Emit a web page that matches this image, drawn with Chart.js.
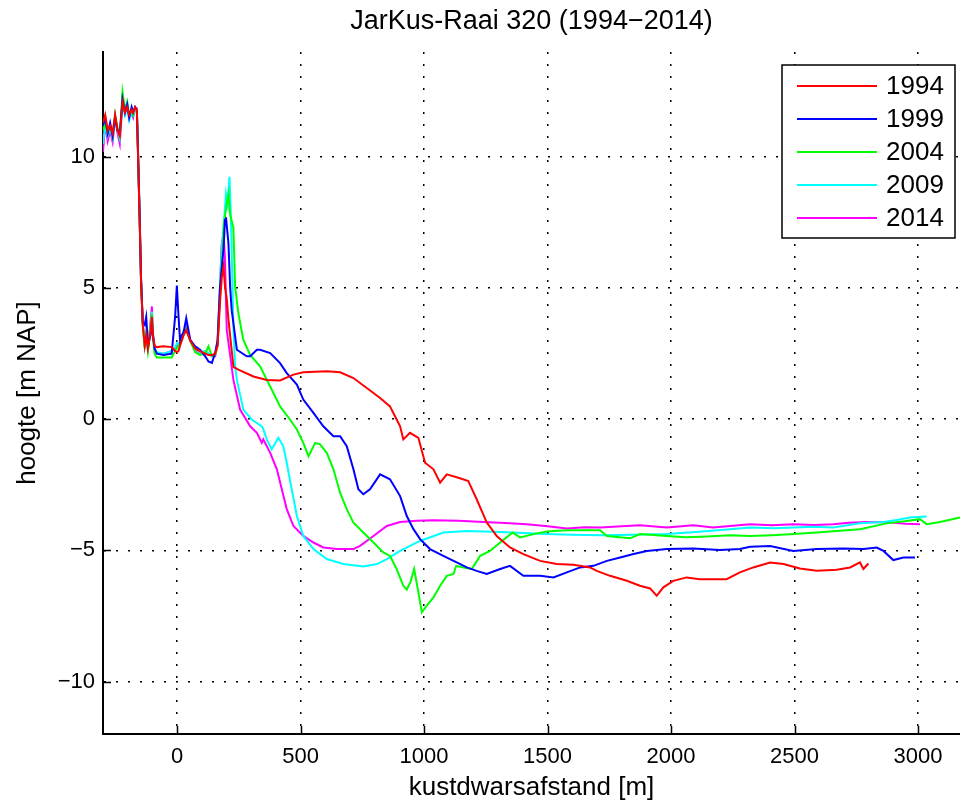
<!DOCTYPE html>
<html>
<head>
<meta charset="utf-8">
<title>JarKus-Raai 320 (1994-2014)</title>
<script src="https://cdn.jsdelivr.net/npm/chart.js@4.4.1/dist/chart.umd.min.js"></script>
<style>
  html, body { margin: 0; padding: 0; background: #fff; }
  #wrap { width: 960px; height: 805px; }
</style>
</head>
<body>
<div id="wrap"><canvas id="chart" width="960" height="805"></canvas></div>
<script>
const FONT = '"Liberation Sans", Arial, Helvetica, sans-serif';

const chartTitle = "JarKus-Raai 320 (1994\u22122014)";
const xLabel = "kustdwarsafstand [m]";
const yLabel = "hoogte [m NAP]";
const years = ["1994", "1999", "2004", "2009", "2014"];
const colors = ["#ff0000", "#0000ff", "#00ff00", "#00ffff", "#ff00ff"];
const xTicks = [0, 500, 1000, 1500, 2000, 2500, 3000];
const yTicks = [-10, -5, 0, 5, 10];

// ===================== DATA =====================
// dune part, same distances for every year
const duneDist = [
  -300, -291, -281, -271, -261, -251, -241, -232, -221, -211,
  -202, -194, -184, -178, -170, -163, -159, -152, -146, -139,
  -131, -125, -118, -108, -102, -98, -91, -82, -55, -22,
  -8, -1, 6, 12, 19, 26, 37, 53, 73, 93,
  114, 127, 141, 154, 164, 174
];

const duneH1994 = [
  11.3, 11.6, 11.0, 11.2, 10.9, 11.6, 11.0, 10.8, 12.1, 11.7,
  11.9, 11.6, 11.8, 11.7, 11.9, 11.8, 10.4, 7.8, 5.3, 3.6,
  2.8, 3.2, 2.7, 3.3, 3.9, 3.2, 2.8, 2.75, 2.78, 2.75,
  2.6, 2.55, 2.6, 2.8, 3.0, 3.2, 3.4, 3.0, 2.7, 2.6,
  2.5, 2.45, 2.45, 2.5, 2.8, 4.5
];
const duneH1999 = [
  11.2, 11.5, 10.9, 11.3, 10.8, 11.5, 11.0, 10.9, 12.2, 11.7,
  12.0, 11.5, 11.9, 11.7, 11.9, 11.8, 10.5, 7.9, 5.4, 3.7,
  3.6, 3.9, 2.8, 3.2, 3.7, 3.2, 2.7, 2.5, 2.45, 2.5,
  3.9, 5.1, 3.9, 3.0, 3.2, 3.3, 3.85, 3.03, 2.78, 2.65,
  2.4, 2.2, 2.15, 2.53, 3.0, 5.06
];
const duneH2004 = [
  11.0, 11.3, 10.9, 11.2, 10.8, 11.6, 11.1, 10.8, 12.47, 11.8,
  12.1, 11.6, 11.8, 11.6, 11.9, 11.8, 10.4, 7.8, 5.2, 3.6,
  2.7, 3.2, 2.6, 3.4, 4.0, 3.1, 2.5, 2.35, 2.35, 2.35,
  2.6, 2.7, 2.8, 2.9, 3.0, 3.2, 3.45, 3.0, 2.55, 2.45,
  2.5, 2.78, 2.4, 2.45, 2.8, 4.8
];
const duneH2009 = [
  10.5, 11.2, 10.8, 11.1, 10.7, 11.4, 11.0, 10.7, 12.0, 11.6,
  11.9, 11.4, 11.7, 11.6, 11.85, 11.8, 10.5, 7.9, 5.3, 3.7,
  2.8, 3.2, 2.7, 3.5, 4.1, 3.3, 2.7, 2.55, 2.5, 2.6,
  2.75, 2.9, 2.85, 2.9, 3.1, 3.35, 3.45, 3.0, 2.7, 2.55,
  2.6, 2.5, 2.45, 2.45, 3.0, 5.2
];
const duneH2014 = [
  10.2, 11.27, 10.6, 11.0, 10.57, 11.52, 10.9, 10.5, 12.15, 11.65,
  12.0, 11.5, 11.65, 11.5, 11.9, 11.85, 10.38, 7.85, 5.3, 3.67,
  2.78, 3.3, 2.65, 3.67, 4.3, 3.3, 2.65, 2.53, 2.5, 2.59,
  2.7, 2.78, 2.85, 2.95, 3.03, 3.3, 3.54, 3.03, 2.65, 2.53,
  2.59, 2.5, 2.4, 2.4, 2.9, 5.06
];

// seaward part, per year
const dist1994 = [
  181, 188, 194, 201, 208, 228, 248, 309, 363, 417,
  471, 511, 606, 660, 714, 768, 822, 862, 889, 903,
  916, 943, 977, 1004, 1038, 1065, 1092, 1139, 1179, 1213,
  1254, 1294, 1348, 1402, 1470, 1537, 1605, 1672, 1699, 1753,
  1821, 1874, 1915, 1942, 1969, 2009, 2063, 2117, 2171, 2225,
  2279, 2333, 2401, 2455, 2522, 2590, 2671, 2725, 2765, 2779,
  2799
];
const h1994 = [
  5.4, 5.82, 5.06, 4.6, 3.8, 2.0, 1.89, 1.63, 1.5, 1.48,
  1.7, 1.79, 1.83, 1.79, 1.57, 1.19, 0.81, 0.49, -0.01, -0.27,
  -0.77, -0.52, -0.71, -1.66, -1.91, -2.42, -2.1, -2.23, -2.36, -3.05,
  -3.94, -4.45, -4.89, -5.14, -5.4, -5.52, -5.55, -5.65, -5.78, -5.97,
  -6.16, -6.35, -6.45, -6.73, -6.41, -6.16, -6.03, -6.1, -6.1, -6.1,
  -5.84, -5.65, -5.46, -5.52, -5.69, -5.78, -5.74, -5.65, -5.46, -5.71,
  -5.5
];

const dist1999 = [
  188, 194, 198, 208, 215, 221, 242, 282, 296, 323,
  336, 377, 417, 444, 485, 511, 552, 592, 633, 660,
  687, 714, 734, 754, 781, 822, 862, 903, 930, 957,
  984, 1024, 1078, 1132, 1173, 1213, 1254, 1308, 1348, 1402,
  1470, 1524, 1578, 1632, 1686, 1740, 1794, 1848, 1902, 1983,
  2090, 2198, 2279, 2320, 2401, 2495, 2590, 2698, 2779, 2833,
  2860, 2900, 2941, 2988
];
const h1999 = [
  6.5, 7.6, 7.7, 6.7, 5.0, 4.17, 2.65, 2.4, 2.4, 2.65,
  2.65, 2.52, 2.14, 1.76, 1.32, 0.75, 0.24, -0.27, -0.65, -0.65,
  -1.03, -1.91, -2.67, -2.86, -2.67, -2.1, -2.29, -2.93, -3.69, -4.19,
  -4.57, -4.95, -5.21, -5.46, -5.65, -5.78, -5.9, -5.71, -5.59, -5.97,
  -5.97, -6.03, -5.84, -5.65, -5.59, -5.4, -5.27, -5.14, -5.02, -4.95,
  -4.93, -4.99, -4.95, -4.86, -4.83, -5.02, -4.95, -4.93, -4.95, -4.89,
  -5.02, -5.37, -5.27, -5.27
];

const dist2004 = [
  182, 190, 201, 208, 215, 228, 235, 248, 268, 296,
  336, 377, 417, 457, 485, 511, 532, 559, 579, 606,
  633, 660, 687, 714, 754, 795, 835, 862, 889, 916,
  930, 945, 960, 977, 991, 1011, 1038, 1065, 1092, 1119,
  1130, 1159, 1193, 1227, 1267, 1308, 1359, 1389, 1443, 1497,
  1578, 1659, 1713, 1740, 1834, 1874, 1983, 2060, 2144, 2239,
  2320, 2410, 2495, 2590, 2671, 2765, 2873, 2954, 3008, 3035,
  3089, 3170
];
const h2004 = [
  6.0, 7.5, 8.2, 8.6, 7.8, 7.3, 5.06, 4.05, 3.03, 2.45,
  2.02, 1.25, 0.49, -0.01, -0.39, -0.9, -1.41, -0.9, -0.96, -1.28,
  -1.91, -2.8, -3.43, -3.94, -4.32, -4.7, -5.08, -5.21, -5.71, -6.35,
  -6.5, -6.2, -5.71, -6.6, -7.36, -7.11, -6.79, -6.35, -5.97, -5.9,
  -5.59, -5.65, -5.71, -5.21, -5.02, -4.7, -4.32, -4.51, -4.38, -4.28,
  -4.23, -4.23, -4.23, -4.45, -4.54, -4.38, -4.45, -4.5, -4.47, -4.42,
  -4.45, -4.42, -4.38, -4.32, -4.26, -4.19, -3.97, -3.88, -3.81, -4.0,
  -3.92, -3.75
];

const dist2009 = [
  181, 192, 198, 205, 212, 217, 222, 228, 235, 242,
  268, 302, 343, 350, 363, 383, 410, 430, 444, 464,
  485, 511, 552, 606, 673, 754, 809, 849, 903, 957,
  984, 1078, 1173, 1308, 1400, 1497, 1600, 1713, 1850, 1983,
  2100, 2239, 2320, 2420, 2495, 2580, 2657, 2765, 2860, 2914,
  2968, 3035
];
const h2009 = [
  6.5, 7.8, 8.6, 8.2, 9.24, 8.0, 6.0, 3.5, 2.0, 1.5,
  0.37, -0.01, -0.27, -0.4, -0.77, -1.15, -0.71, -1.03, -1.66, -2.67,
  -3.69, -4.45, -4.95, -5.33, -5.52, -5.61, -5.52, -5.33, -5.02, -4.76,
  -4.64, -4.32, -4.26, -4.3, -4.34, -4.38, -4.4, -4.42, -4.4, -4.38,
  -4.3, -4.19, -4.13, -4.16, -4.13, -4.1, -4.13, -3.97, -3.92, -3.84,
  -3.75, -3.71
];

const dist2014 = [
  180, 188, 194, 201, 228, 255, 296, 323, 343, 349,
  377, 404, 424, 444, 471, 511, 552, 592, 647, 714,
  741, 795, 849, 903, 970, 1038, 1140, 1240, 1330, 1416,
  1500, 1578, 1650, 1713, 1800, 1874, 1983, 2090, 2171, 2250,
  2320, 2410, 2495, 2580, 2657, 2720, 2792, 2887, 2950, 3008
];
const h2014 = [
  6.6, 7.1, 6.07, 3.41, 1.5, 0.37, -0.27, -0.52, -0.9, -0.77,
  -1.28, -1.91, -2.67, -3.43, -4.07, -4.45, -4.7, -4.89, -4.95, -4.95,
  -4.83, -4.45, -4.07, -3.92, -3.87, -3.85, -3.87, -3.92, -3.96, -4.0,
  -4.08, -4.17, -4.12, -4.13, -4.08, -4.04, -4.13, -4.04, -4.13, -4.06,
  -4.0, -4.04, -4.0, -4.03, -4.0, -3.95, -3.92, -3.94, -3.98, -4.0
];

const duneHeights = [duneH1994, duneH1999, duneH2004, duneH2009, duneH2014];
const seaDists = [dist1994, dist1999, dist2004, dist2009, dist2014];
const seaHeights = [h1994, h1999, h2004, h2009, h2014];

function profile(i) {
  const pts = duneDist.map((x, k) => ({ x, y: duneHeights[i][k] }));
  seaDists[i].forEach((x, k) => pts.push({ x, y: seaHeights[i][k] }));
  return pts;
}

const minus = (v) => String(v).replace("-", "\u2212");

// ===================== PLUGINS =====================
// MATLAB style: ticks point inwards
const inwardTicks = {
  id: "inwardTicks",
  afterDatasetsDraw(chart) {
    const { ctx, chartArea: a, scales } = chart;
    ctx.save();
    ctx.strokeStyle = "#000";
    ctx.lineWidth = 1.5;
    ctx.beginPath();
    xTicks.forEach((v) => {
      const px = Math.round(scales.x.getPixelForValue(v)) + 0.5;
      ctx.moveTo(px, a.bottom);
      ctx.lineTo(px, a.bottom - 8);
    });
    yTicks.forEach((v) => {
      const py = Math.round(scales.y.getPixelForValue(v)) + 0.5;
      ctx.moveTo(a.left, py);
      ctx.lineTo(a.left + 8, py);
    });
    ctx.stroke();
    ctx.restore();
  },
};

const plotTitle = {
  id: "plotTitle",
  afterDraw(chart) {
    const { ctx, chartArea: a } = chart;
    ctx.save();
    ctx.fillStyle = "#000";
    ctx.font = "27px " + FONT;
    ctx.textAlign = "center";
    ctx.textBaseline = "middle";
    ctx.fillText(chartTitle, (a.left + a.right) / 2, 22);
    ctx.restore();
  },
};

const boxLegend = {
  id: "boxLegend",
  afterDraw(chart) {
    const { ctx, chartArea: a } = chart;
    const w = 173, h = 173;
    const x0 = a.right - 5 - w, y0 = a.top + 13;
    ctx.save();
    ctx.fillStyle = "#fff";
    ctx.fillRect(x0, y0, w, h);
    ctx.strokeStyle = "#000";
    ctx.lineWidth = 1.5;
    ctx.strokeRect(x0, y0, w, h);
    ctx.font = "26px " + FONT;
    ctx.textBaseline = "middle";
    ctx.fillStyle = "#000";
    chart.data.datasets.forEach((ds, i) => {
      const y = y0 + 21 + i * 33;
      ctx.strokeStyle = ds.borderColor;
      ctx.lineWidth = 2;
      ctx.beginPath();
      ctx.moveTo(x0 + 15, y);
      ctx.lineTo(x0 + 95, y);
      ctx.stroke();
      ctx.fillText(ds.label, x0 + 104, y + 1);
    });
    ctx.restore();
  },
};

// ===================== CHART =====================
new Chart(document.getElementById("chart"), {
  type: "line",
  data: {
    datasets: years.map((yr, i) => ({
      label: yr,
      data: profile(i),
      borderColor: colors[i],
      backgroundColor: colors[i],
      borderWidth: 2,
      pointRadius: 0,
      tension: 0,
      fill: false,
    })),
  },
  options: {
    responsive: false,
    animation: false,
    layout: { padding: { top: 52, right: 0, bottom: 0, left: 0 } },
    plugins: { legend: { display: false }, title: { display: false }, tooltip: { enabled: false } },
    scales: {
      x: {
        type: "linear",
        min: -300,
        max: 3170,
        afterBuildTicks: (s) => { s.ticks = xTicks.map((v) => ({ value: v })); },
        afterFit: (s) => { s.height = 71; },
        grid: { color: "#000", lineWidth: 1.5, drawTicks: false },
        border: { display: true, color: "#000", width: 2, dash: [2, 10] },
        ticks: { color: "#000", font: { family: FONT, size: 22 }, padding: 10, maxRotation: 0, callback: (v) => minus(v) },
        title: { display: true, text: xLabel, color: "#000", font: { family: FONT, size: 26 }, padding: { top: 0, bottom: 2 } },
      },
      y: {
        type: "linear",
        min: -12,
        max: 14,
        afterBuildTicks: (s) => { s.ticks = yTicks.map((v) => ({ value: v })); },
        afterFit: (s) => { s.width = 103; },
        grid: { color: "#000", lineWidth: 1.5, drawTicks: false },
        border: { display: true, color: "#000", width: 2, dash: [2, 10] },
        ticks: { color: "#000", font: { family: FONT, size: 22 }, padding: 8, callback: (v) => minus(v) },
        title: { display: true, text: yLabel, color: "#000", font: { family: FONT, size: 26 }, padding: { top: 12, bottom: 0 } },
      },
    },
  },
  plugins: [inwardTicks, plotTitle, boxLegend],
});
</script>
</body>
</html>
